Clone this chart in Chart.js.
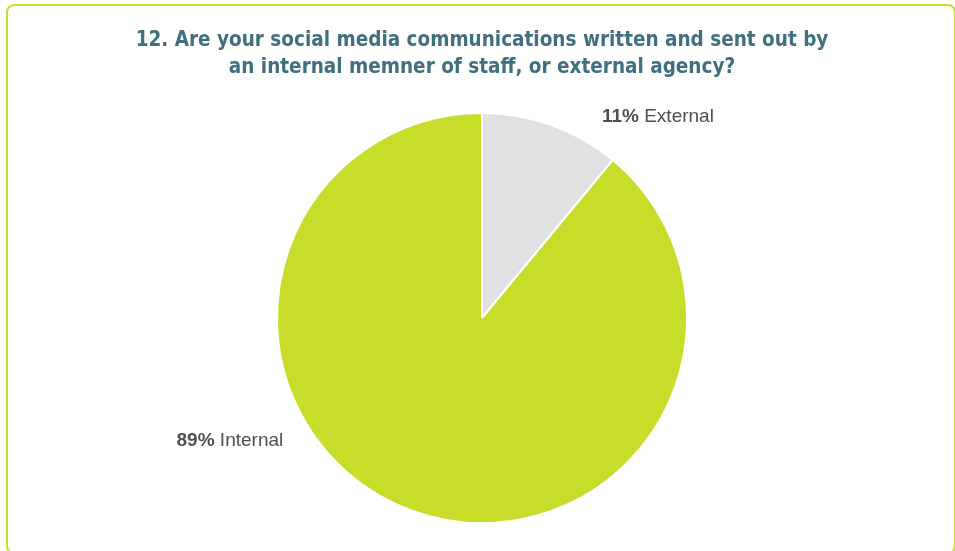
<!DOCTYPE html>
<html>
<head>
<meta charset="utf-8">
<script src="https://cdn.jsdelivr.net/npm/chart.js@4"></script>
<style>
html,body{margin:0;padding:0;background:#fff;}
#wrap{position:relative;width:955px;height:551px;}
</style>
</head>
<body>
<div id="wrap"><canvas id="c" width="955" height="551"></canvas></div>
<script>
const titleLines = ["12. Are your social media communications written and sent out by", "an internal memner of staff, or external agency?"];
const categories = ["External", "Internal"];
const percentages = [11, 89];

const colors = ["#e0e1e3", "#c8dc2a"];
// label anchor offsets relative to pie centre, in units of radius
const labelOffsets = [[0.585, -0.955], [-1.49, 0.625]];

const borderPlugin = {
  id: 'frame',
  beforeDraw(chart) {
    const ctx = chart.ctx;
    ctx.save();
    ctx.strokeStyle = '#c8dc2a';
    ctx.lineWidth = 2;
    ctx.beginPath();
    ctx.roundRect(7, 5, 948, 548, 7);
    ctx.stroke();
    ctx.restore();
  }
};

const labelPlugin = {
  id: 'sliceLabels',
  afterDatasetsDraw(chart) {
    const ctx = chart.ctx;
    const meta = chart.getDatasetMeta(0);
    const arc0 = meta.data[0];
    const cx = arc0.x, cy = arc0.y, r = arc0.outerRadius;
    ctx.save();
    ctx.textBaseline = 'alphabetic';
    ctx.fillStyle = '#4f4f51';
    categories.forEach((cat, i) => {
      const x = cx + labelOffsets[i][0] * r;
      const y = cy + labelOffsets[i][1] * r;
      ctx.font = 'bold 19px "Liberation Sans", Arial, sans-serif';
      const pct = percentages[i] + '%';
      ctx.fillText(pct, x, y);
      const w = ctx.measureText(pct).width;
      ctx.font = '19px "Liberation Sans", Arial, sans-serif';
      ctx.fillText(' ' + cat, x + w, y);
    });
    ctx.restore();
  }
};

new Chart(document.getElementById('c'), {
  type: 'pie',
  data: {
    labels: categories,
    datasets: [{
      data: percentages,
      backgroundColor: colors,
      borderColor: '#ffffff',
      borderWidth: 2,
      hoverOffset: 0
    }]
  },
  options: {
    responsive: false,
    animation: false,
    devicePixelRatio: 1,
    layout: { padding: { left: 9, right: 0, top: 0, bottom: 27 } },
    plugins: {
      legend: { display: false },
      tooltip: { enabled: false },
      title: {
        display: true,
        text: titleLines,
        color: '#40707f',
        font: { family: '"DejaVu Sans Condensed", "DejaVu Sans", sans-serif', weight: 'bold', size: 20.5, lineHeight: '27px' },
        padding: { top: 27, bottom: 31 }
      }
    }
  },
  plugins: [borderPlugin, labelPlugin]
});
</script>
</body>
</html>
